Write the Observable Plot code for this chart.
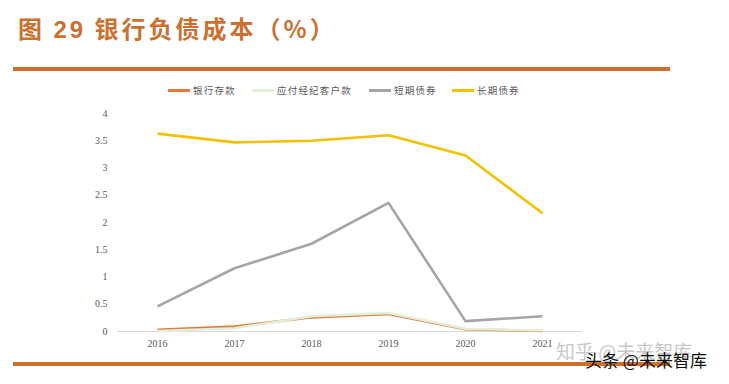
<!DOCTYPE html>
<html><head><meta charset="utf-8">
<script src="https://cdn.jsdelivr.net/npm/d3@7"></script>
<script src="https://cdn.jsdelivr.net/npm/@observablehq/plot@0.6"></script>
<style>
body{margin:0;background:#fff;width:729px;height:384px;overflow:hidden;position:relative;font-family:"Noto Sans CJK SC",sans-serif;}
#title{position:absolute;left:18px;top:10px;font-size:24px;font-weight:bold;color:#CC7030;letter-spacing:3px;white-space:nowrap;}
#title .num{font-family:"Liberation Sans",Arial,sans-serif;font-weight:bold;}
.rule{position:absolute;left:13px;width:657px;height:4px;background:#CC7030;}
#legend{position:absolute;top:83px;left:0;width:729px;height:14px;font-size:9.5px;color:#595959;letter-spacing:1.2px;}
.li{position:absolute;top:0;display:flex;align-items:center;white-space:nowrap;}
.sw{display:inline-block;width:22px;height:3px;margin-right:3px;}
#chart{position:absolute;left:0;top:100px;}
.wm{position:absolute;white-space:nowrap;}
</style></head>
<body>
<div id="title">图 <span class="num">29</span> 银行负债成本（%）</div>
<div class="rule" style="top:67px"></div>
<div class="rule" style="top:362px"></div>
<div id="legend"></div>
<div id="chart"></div>
<div class="wm" style="left:556px;top:337px;font-size:19px;color:#c8c8c8;">知乎 @未来智库</div>
<div class="wm" style="left:585px;top:347px;font-size:17px;color:#111;">头条 @未来智库</div>
<script>
const years = ["2016","2017","2018","2019","2020","2021"];
const seriesNames = ["银行存款","应付经纪客户款","短期债券","长期债券"];
const colors = ["#E07B39","#E2EFD9","#A5A5A5","#F5C000"];
const deposits = [0.03,0.09,0.26,0.32,0.04,0.01];
const brokerPayables = [0.01,0.06,0.28,0.34,0.05,0.02];
const shortBonds = [0.46,1.16,1.61,2.36,0.19,0.28];
const longBonds = [3.63,3.47,3.50,3.60,3.23,2.17];
const yTicks = [0,0.5,1,1.5,2,2.5,3,3.5,4];

const allSeries = [deposits, brokerPayables, shortBonds, longBonds];
const data = [];
allSeries.forEach((vals,i)=>vals.forEach((v,j)=>data.push({year:years[j],value:v,series:seriesNames[i]})));

// legend
const legendPos = [168,252,369,452];
const lg = document.getElementById("legend");
seriesNames.forEach((n,i)=>{
  const d=document.createElement("div");d.className="li";d.style.left=legendPos[i]+"px";
  d.innerHTML=`<span class="sw" style="background:${colors[i]}"></span><span>${n}</span>`;
  lg.appendChild(d);
});

const plot = Plot.plot({
  width:729, height:260,
  marginLeft:117, marginRight:147, marginTop:13, marginBottom:29,
  style:{fontFamily:"'Liberation Serif',serif",fontSize:"10px",color:"#595959",background:"transparent"},
  x:{type:"point",domain:years,padding:0.5,label:null},
  y:{domain:[0,4],ticks:yTicks,label:null},
  color:{domain:seriesNames,range:colors},
  marks:[
    Plot.ruleY([0],{stroke:"#D9D9D9",strokeWidth:1}),
    Plot.axisX({tickSize:0,tickPadding:8,label:null}),
    Plot.axisY({ticks:yTicks,tickSize:0,tickPadding:10,label:null,tickFormat:d=>String(d)}),
    Plot.line(data,{x:"year",y:"value",z:"series",stroke:"series",strokeWidth:2.6,strokeLinejoin:"round",strokeLinecap:"butt"})
  ]
});
document.getElementById("chart").appendChild(plot);
</script>
</body></html>
